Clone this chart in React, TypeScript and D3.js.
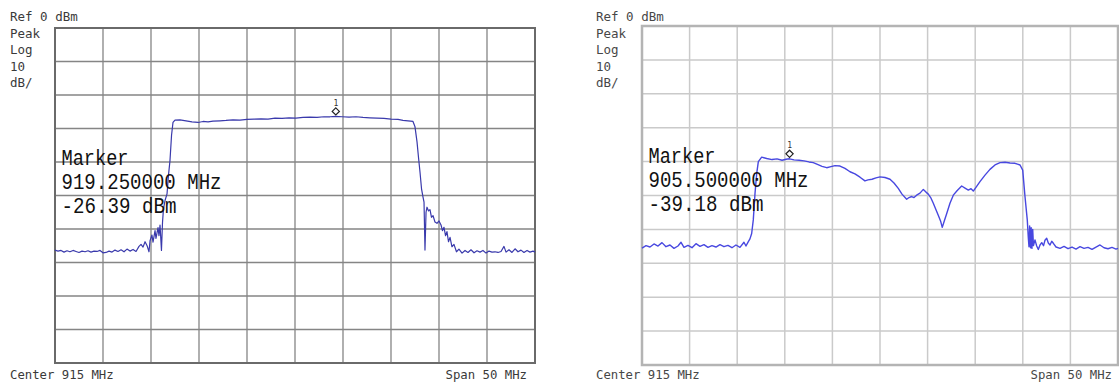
import React from "react";
import * as d3 from "d3";

// Span settings shared by both analyzer screens
const centerMHz = 915;
const spanMHz = 50;
const refLevel = 0; // dBm at top graticule line
const dbPerDiv = 10;
const divisions = 10;

// Screen 1 trace: frequency (MHz) and level (dBm)
const traceAFreq = [
  890.0, 890.31, 890.63, 890.94, 891.25, 891.56, 891.88, 892.19, 892.5, 892.81, 893.13, 893.44,
  893.75, 894.06, 894.38, 894.69, 895.0, 895.31, 895.63, 895.94, 896.25, 896.56, 896.88, 897.19,
  897.5, 897.81, 898.13, 898.44, 898.75, 898.96, 899.17, 899.38, 899.58, 899.79, 899.9, 900.1,
  900.21, 900.42, 900.52, 900.73, 900.83, 900.94, 901.09, 901.2, 901.3, 901.46, 901.67, 901.82,
  901.98, 902.14, 902.29, 902.5, 903.02, 903.65, 904.27, 904.9, 905.42, 905.94, 906.46, 907.19,
  907.81, 908.54, 909.27, 910.0, 910.73, 911.46, 912.19, 912.92, 913.65, 914.38, 915.1, 915.83,
  916.56, 917.29, 918.02, 918.65, 919.25, 919.9, 920.63, 921.35, 922.08, 922.81, 923.54, 924.27,
  925.0, 925.73, 926.25, 926.77, 927.29, 927.5, 927.71, 927.86, 928.02, 928.18, 928.33, 928.44,
  928.54, 928.65, 928.75, 928.91, 929.06, 929.22, 929.38, 929.58, 929.79, 930.0, 930.21, 930.36,
  930.52, 930.68, 930.83, 930.99, 931.15, 931.35, 931.56, 931.82, 932.08, 932.4, 932.71, 933.02,
  933.33, 933.65, 933.96, 934.27, 934.58, 934.9, 935.21, 935.52, 935.83, 936.15, 936.46, 936.77,
  936.98, 937.29, 937.6, 937.92, 938.23, 938.54, 938.85, 939.17, 939.48, 939.79, 940.0,
];
const traceALevel = [
  -66.3, -66.6, -66.4, -66.9, -66.5, -66.8, -66.4, -66.7, -67.0, -66.6, -66.8, -66.5,
  -66.9, -66.6, -66.7, -66.4, -67.1, -67.0, -66.6, -66.9, -66.3, -66.7, -66.2, -66.8,
  -66.0, -66.6, -66.1, -66.7, -65.2, -64.6, -65.4, -63.8, -64.9, -66.8, -63.5, -61.8,
  -63.9, -60.5, -62.8, -59.6, -62.0, -58.8, -66.4, -58.0, -54.0, -51.5, -49.5, -44.0,
  -39.5, -32.0, -28.2, -27.5, -27.4, -27.7, -28.0, -28.2, -27.9, -28.0, -27.8, -27.7,
  -27.6, -27.4, -27.5, -27.3, -27.2, -27.1, -27.2, -26.9, -27.0, -26.8, -26.9, -26.7,
  -26.6, -26.7, -26.5, -26.5, -26.39, -26.5, -26.6, -26.5, -26.7, -26.8, -26.9, -27.0,
  -27.2, -27.3, -27.6, -27.7, -27.9, -29.5, -34.0, -38.5, -43.0, -48.0, -50.4, -52.0,
  -66.3, -55.0, -53.5, -54.6, -54.2, -56.5, -56.0, -57.9, -58.3, -57.6, -58.8, -60.5,
  -59.5, -62.0, -60.8, -63.8, -62.5, -65.3, -64.6, -66.8, -66.0, -67.2, -66.4, -67.0,
  -66.2, -67.1, -66.5, -66.9, -66.4, -67.2, -66.6, -66.9, -66.8, -67.0, -66.7, -65.2,
  -66.9, -66.2, -67.0, -65.9, -66.8, -66.3, -67.0, -66.4, -66.9, -66.6, -66.9,
];

// Screen 2 trace: frequency (MHz) and level (dBm)
const traceBFreq = [
  890.0, 890.42, 890.84, 891.26, 891.68, 892.1, 892.52, 892.94, 893.36, 893.78, 894.1, 894.41,
  894.83, 895.25, 895.67, 896.09, 896.51, 896.93, 897.35, 897.77, 898.19, 898.61, 899.03, 899.45,
  899.87, 900.29, 900.71, 900.92, 901.17, 901.34, 901.52, 901.69, 901.87, 902.05, 902.22, 902.57,
  903.1, 903.66, 904.18, 904.71, 905.13, 905.5, 905.97, 906.49, 907.02, 907.54, 907.99, 908.49,
  908.91, 909.4, 909.85, 910.27, 910.8, 911.32, 911.85, 912.37, 912.9, 913.42, 913.74, 914.16,
  914.58, 915.0, 915.53, 916.05, 916.47, 916.92, 917.31, 917.8, 918.05, 918.33, 918.57, 918.85,
  919.2, 919.55, 919.83, 920.07, 920.36, 920.6, 920.88, 921.12, 921.36, 921.54, 921.77, 922.01,
  922.35, 922.7, 923.09, 923.58, 923.93, 924.28, 924.56, 924.8, 925.08, 925.5, 926.03, 926.55,
  927.08, 927.61, 928.13, 928.66, 929.18, 929.71, 929.99, 930.23, 930.47, 930.58, 930.65, 930.72,
  930.81, 930.88, 930.96, 931.04, 931.12, 931.28, 931.46, 931.63, 931.81, 931.99, 932.18, 932.33,
  932.51, 932.68, 932.86, 933.04, 933.21, 933.49, 933.91, 934.33, 934.75, 935.17, 935.59, 936.01,
  936.43, 936.85, 937.27, 937.69, 938.11, 938.53, 938.95, 939.37, 939.79, 940.0,
];
const traceBLevel = [
  -65.5, -64.8, -65.2, -64.3, -64.9, -63.9, -65.1, -64.6, -65.6, -64.9, -63.8, -65.3,
  -64.7, -65.4, -64.2, -65.0, -64.5, -65.3, -64.8, -65.2, -64.5, -65.1, -64.7, -65.4,
  -64.6, -65.3, -63.8, -64.9, -63.6, -62.8, -61.2, -57.2, -49.4, -43.5, -40.0, -38.7,
  -39.1, -39.4, -39.2, -39.6, -39.3, -39.18, -39.5, -39.6, -39.8, -40.1, -40.3, -40.9,
  -41.4, -41.8, -41.5, -41.2, -41.3, -42.0, -43.0, -43.6, -44.6, -45.7, -45.4, -45.2,
  -44.8, -44.5, -44.7, -45.2, -46.3, -47.9, -49.6, -51.1, -50.6, -50.3, -50.6, -49.9,
  -49.3, -48.2, -49.0, -49.6, -50.8, -52.3, -54.2, -55.8, -57.5, -59.4, -57.4, -55.3,
  -52.3, -49.9, -48.6, -47.2, -47.8, -48.4, -48.0, -48.7, -47.6, -45.9, -44.0, -42.3,
  -41.0, -40.3, -40.2, -40.4, -40.5, -41.0, -42.5, -50.3, -57.2, -62.5, -65.1, -59.0,
  -65.4, -59.5, -65.6, -60.0, -64.8, -63.1, -64.9, -65.9, -64.6, -63.9, -64.8, -63.2,
  -62.6, -64.0, -64.6, -63.5, -64.1, -65.2, -65.6, -65.0, -65.7, -65.2, -65.8, -65.1,
  -65.6, -65.3, -65.9, -65.2, -64.6, -65.4, -65.7, -65.3, -65.8, -65.6,
];

// Marker readouts
const markerAFreq = 919.25;
const markerALevel = -26.39;
const markerBFreq = 905.5;
const markerBLevel = -39.18;

const headerLines = ["Ref 0 dBm", "Peak", "Log", "10", "dB/"];
const footerLeft = "Center 915 MHz";
const footerRight = "Span 50 MHz";

type PanelProps = {
  freq: number[];
  level: number[];
  markerFreq: number;
  markerLevel: number;
  box: { left: number; right: number; top: number; bottom: number };
  textX: number;
  gridColor: string;
  gridWidth: number;
  frameColor: string;
  frameWidth: number;
  traceColor: string;
  traceWidth: number;
  textColor: string;
  spanRight: number;
};

function Panel(p: PanelProps) {
  const x = d3
    .scaleLinear()
    .domain([centerMHz - spanMHz / 2, centerMHz + spanMHz / 2])
    .range([p.box.left, p.box.right]);
  const y = d3
    .scaleLinear()
    .domain([refLevel - dbPerDiv * divisions, refLevel])
    .range([p.box.bottom, p.box.top]);

  const vLines = d3.range(0, divisions + 1).map((i) => centerMHz - spanMHz / 2 + (i * spanMHz) / divisions);
  const hLines = d3.range(0, divisions + 1).map((i) => refLevel - i * dbPerDiv);

  const pts = p.freq.map((f, i) => [f, p.level[i]] as [number, number]);
  const line = d3
    .line<[number, number]>()
    .x((d) => x(d[0]))
    .y((d) => y(d[1]));

  const mx = x(p.markerFreq);
  const my = y(p.markerLevel);
  const dy = my - 5;
  const ds = 3.6;

  const markerX = p.box.left + 6.5;
  const markerWidths = [67, 160, 115];
  const markerTexts = [
    "Marker",
    `${p.markerFreq.toFixed(6)} MHz`,
    `${p.markerLevel < 0 ? "-" : ""}${Math.abs(p.markerLevel).toFixed(2)} dBm`,
  ];

  return (
    <g>
      {vLines.slice(1, -1).map((v) => (
        <line key={"v" + v} x1={x(v)} x2={x(v)} y1={p.box.top} y2={p.box.bottom} stroke={p.gridColor} strokeWidth={p.gridWidth} />
      ))}
      {hLines.slice(1, -1).map((v) => (
        <line key={"h" + v} x1={p.box.left} x2={p.box.right} y1={y(v)} y2={y(v)} stroke={p.gridColor} strokeWidth={p.gridWidth} />
      ))}
      <rect
        x={p.box.left}
        y={p.box.top}
        width={p.box.right - p.box.left}
        height={p.box.bottom - p.box.top}
        fill="none"
        stroke={p.frameColor}
        strokeWidth={p.frameWidth}
      />
      <path d={line(pts) || ""} fill="none" stroke={p.traceColor} strokeWidth={p.traceWidth} strokeLinejoin="round" />
      <path
        d={`M${mx},${dy - ds} L${mx + ds},${dy} L${mx},${dy + ds} L${mx - ds},${dy} Z`}
        fill="#fff"
        stroke="#222"
        strokeWidth={1.2}
      />
      <text x={mx} y={dy - ds - 2} fontFamily="DejaVu Sans Mono" fontSize={8} fill="#333" textAnchor="middle">
        1
      </text>
      {markerTexts.map((t, i) => (
        <text
          key={t}
          x={markerX}
          y={p.box.top + 137 + i * 24}
          fontFamily="Liberation Mono, DejaVu Sans Mono, monospace"
          fontSize={22}
          fill="#111"
          textLength={markerWidths[i]}
          lengthAdjust="spacingAndGlyphs"
        >
          {t}
        </text>
      ))}
      {headerLines.map((t, i) => (
        <text
          key={t}
          x={p.textX}
          y={21 + i * 16.5}
          fontFamily="DejaVu Sans Mono, monospace"
          fontSize={12.5}
          fill={p.textColor}
        >
          {t}
        </text>
      ))}
      <text x={p.textX} y={379} fontFamily="DejaVu Sans Mono, monospace" fontSize={12.3} fill={p.textColor}>
        {footerLeft}
      </text>
      <text x={p.spanRight} y={379} fontFamily="DejaVu Sans Mono, monospace" fontSize={12.3} fill={p.textColor} textAnchor="end">
        {footerRight}
      </text>
    </g>
  );
}

export default function App() {
  return (
    <div style={{ position: "absolute", left: 0, top: 0 }}>
      <svg width={1119} height={385} style={{ display: "block", background: "#fff" }}>
        <Panel
          freq={traceAFreq}
          level={traceALevel}
          markerFreq={markerAFreq}
          markerLevel={markerALevel}
          box={{ left: 55, right: 535, top: 28, bottom: 363 }}
          textX={10}
          gridColor="#858585"
          gridWidth={1.3}
          frameColor="#6a6a6a"
          frameWidth={2}
          traceColor="#3a3aac"
          traceWidth={1.2}
          textColor="#3a3a3a"
          spanRight={527}
        />
        <Panel
          freq={traceBFreq}
          level={traceBLevel}
          markerFreq={markerBFreq}
          markerLevel={markerBLevel}
          box={{ left: 642, right: 1118, top: 26, bottom: 365 }}
          textX={596}
          gridColor="#cacaca"
          gridWidth={1.5}
          frameColor="#b4b4b4"
          frameWidth={2.5}
          traceColor="#4848e0"
          traceWidth={1.4}
          textColor="#474747"
          spanRight={1112}
        />
      </svg>
    </div>
  );
}
